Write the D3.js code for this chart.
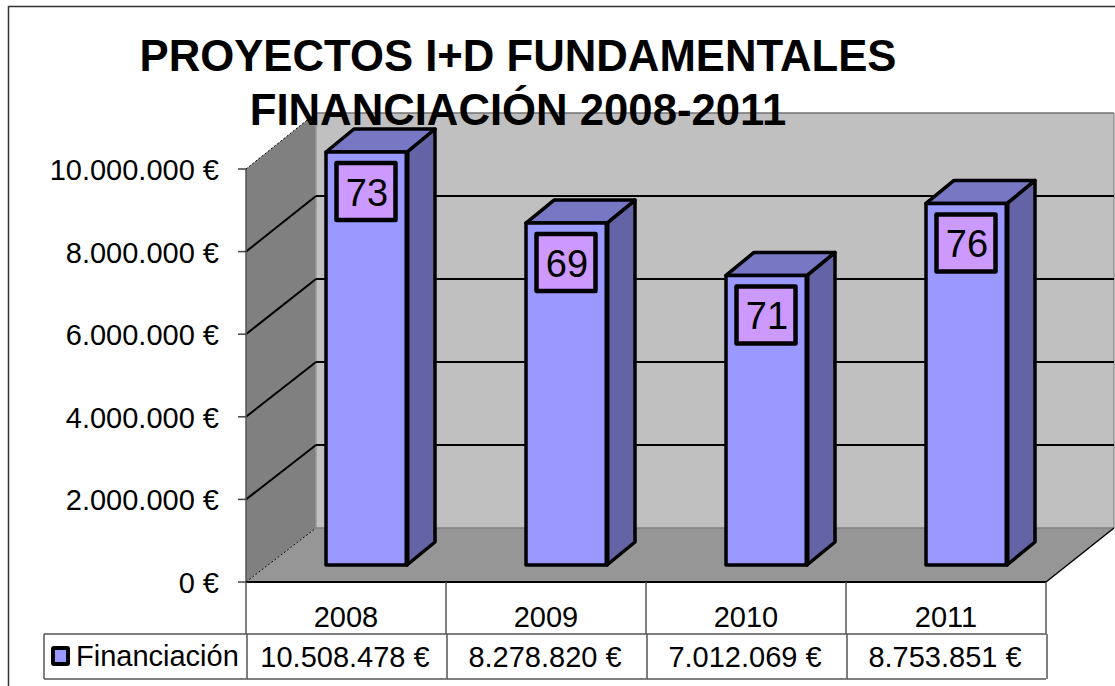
<!DOCTYPE html>
<html><head><meta charset="utf-8">
<style>html,body{margin:0;padding:0;background:#fff}svg{display:block}text{font-family:"Liberation Sans",Arial,sans-serif;fill:#000}</style>
<script src="https://cdn.jsdelivr.net/npm/d3@7/dist/d3.min.js"></script>
</head><body><svg id="c" width="1115" height="686"></svg>
<script>
const categories = ["2008","2009","2010","2011"];
const financiacion = [10508478,8278820,7012069,8753851];
const proyectos = [73,69,71,76];
const tableLabels = ["10.508.478 €","8.278.820 €","7.012.069 €","8.753.851 €"];
const yTicks = [0,2000000,4000000,6000000,8000000,10000000];
const titleLines = ["PROYECTOS I+D FUNDAMENTALES","FINANCIACIÓN 2008-2011"];
const seriesName = "Financiación";

const svg = d3.select("#c");
const x = d3.scaleBand().domain(categories).range([246,1046]);
const y = d3.scaleLinear().domain([0,10000000]).range([582,169]).clamp(true);
const yBack = d3.scaleLinear().domain([0,10000000]).range([528,113]);
const wallDx = 70;
const fmt = v => d3.format(",")(v).replace(/,/g,".")+" €";
const poly = (pts,fill,stroke,sw) => svg.append("path").attr("d","M"+pts.map(p=>p.join(",")).join("L")+"Z")
  .attr("fill",fill).attr("stroke",stroke||"none").attr("stroke-width",sw||0).attr("stroke-linejoin","round");
const line = (x1,y1,x2,y2,c,w,dash) => svg.append("line").attr("x1",x1).attr("y1",y1).attr("x2",x2).attr("y2",y2)
  .attr("stroke",c).attr("stroke-width",w).attr("stroke-dasharray",dash||null);

// outer frame
svg.append("rect").attr("x",8.5).attr("y",6.5).attr("width",1120).attr("height",700).attr("fill","none").attr("stroke","#333").attr("stroke-width",1.5);

// walls and floor
const xL = x.range()[0], xR = x.range()[1], y0 = y(0), bx = xL+wallDx, bxR = xR+wallDx-2;
poly([[bx,yBack(10000000)],[bxR,yBack(10000000)],[bxR,yBack(0)],[bx,yBack(0)]],"#C0C0C0");
poly([[xL,y(10000000)],[bx,yBack(10000000)],[bx,yBack(0)],[xL,y0]],"#808080");
poly([[xL,y0],[bx,yBack(0)],[bxR,yBack(0)],[xR,y0]],"#969696");
line(bx,yBack(10000000),bxR,yBack(10000000),"#707070",1.5);
line(bxR,yBack(10000000),bxR,yBack(0),"#969696",1.5);
line(bx,yBack(10000000),bx,yBack(0),"#999",1.5);
line(bx,yBack(0),bxR,yBack(0),"#808080",1.5);

// gridlines
yTicks.forEach(t=>{
  const edge = t===0||t===10000000;
  if(!edge) line(bx,yBack(t),bxR,yBack(t),"#000",2);
  line(xL,y(t),bx,yBack(t),"#000",edge?1:2,edge?"2,2":null);
});

// axis
line(xL,y(10000000),xL,y0,"#555",1.5);
yTicks.forEach(t=>{
  line(238,y(t),xL,y(t),"#444",1.5);
  svg.append("text").attr("x",219).attr("y",y(t)+11).attr("text-anchor","end").attr("font-size",29).text(fmt(t));
});

// bars
const inDx = 22, inDy = -17, depthX = 28, depthY = -23, barW = 81;
const barX = d => x(d)+(x.bandwidth()-barW)/2+inDx-2;
categories.forEach((c,i)=>{
  const l = barX(c)+0.5, r = l+barW, b = y(0)+inDy, t = y(financiacion[i])+inDy;
  poly([[r,t],[r+depthX,t+depthY],[r+depthX,b+depthY],[r,b]],"#6363A6","#000",3.5);
  poly([[l,t],[l+depthX,t+depthY],[r+depthX,t+depthY],[r,t]],"#7777C4","#000",3.5);
  poly([[l,t],[r,t],[r,b],[l,b]],"#9999FF","#000",3.5);
  line(r,t,r,b,"#000",5);
  const bw = 59, bh = 57, cx = l+barW/2-0.5, cy = t+39.5;
  svg.append("rect").attr("x",cx-bw/2).attr("y",cy-bh/2).attr("width",bw).attr("height",bh)
    .attr("fill","#CC99FF").attr("stroke","#000").attr("stroke-width",4.5).attr("stroke-linejoin","round");
  svg.append("text").attr("x",cx+1).attr("y",cy+14).attr("text-anchor","middle").attr("font-size",38).text(proyectos[i]);
});

// floor front edge
line(xL,y0,xR,y0,"#000",2);
line(xR,y0,bxR,yBack(0),"#000",1.5);

// data table
const t1 = 634, t2 = 679, tL = 44;
const gc = "#555";
line(tL,t1,xR,t1,gc,1.5);
line(tL,t2,xR,t2,gc,1.5);
line(tL,t1,tL,t2,gc,1.5);
[...categories.map(c=>x(c)),xR].forEach(v=>{ line(v,y0,v,t1,gc,1.5); line(v+1,t1,v+1,t2,gc,1.5); });
categories.forEach((c,i)=>{
  const cx = x(c)+x.bandwidth()/2;
  svg.append("text").attr("x",cx).attr("y",627).attr("text-anchor","middle").attr("font-size",29).text(c);
  svg.append("text").attr("x",cx-1).attr("y",667).attr("text-anchor","middle").attr("font-size",29).text(tableLabels[i]);
});
svg.append("rect").attr("x",53).attr("y",648).attr("width",15).attr("height",16).attr("fill","#9999FF").attr("stroke","#000").attr("stroke-width",4).attr("rx",1);
svg.append("text").attr("x",76).attr("y",666).attr("font-size",29).text(seriesName);

// title
titleLines.forEach((s,i)=>{
  svg.append("text").attr("x",518).attr("y",[71,125][i]).attr("text-anchor","middle")
    .attr("font-size",43.7).attr("font-weight","bold").text(s);
});
</script></body></html>
